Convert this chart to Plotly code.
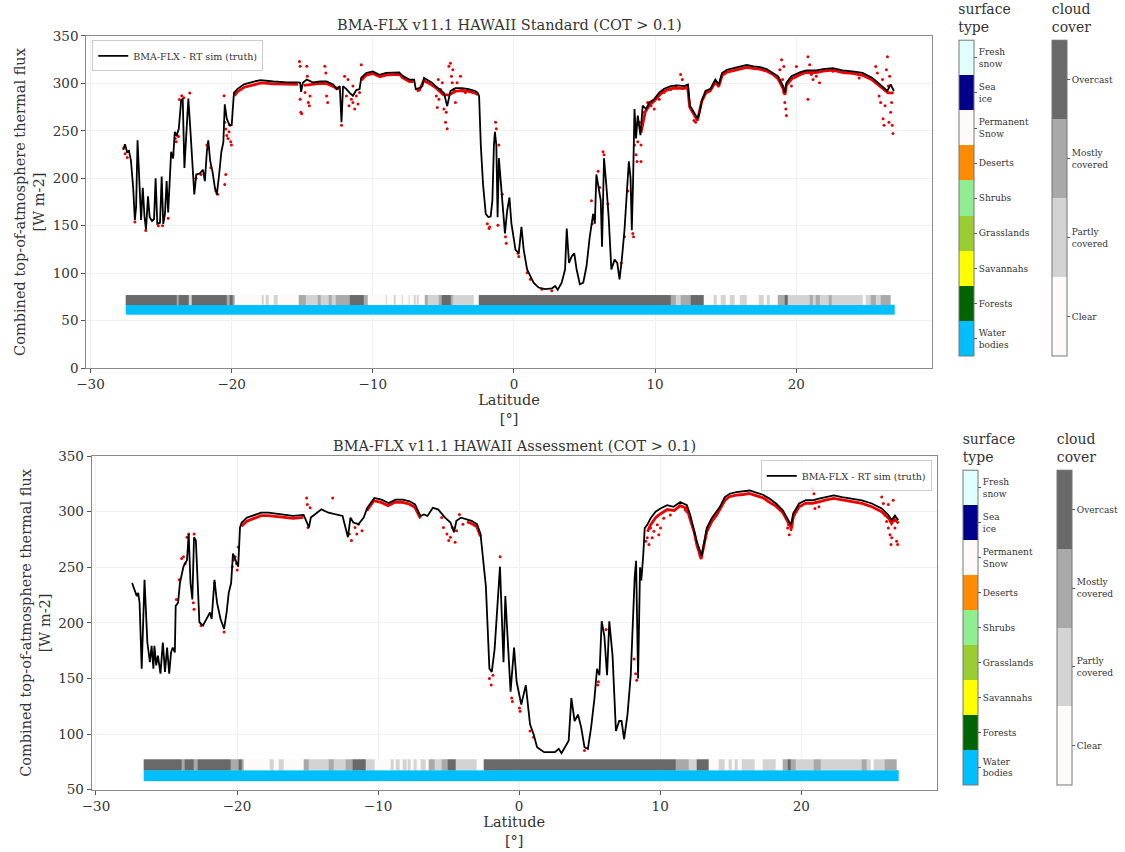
import plotly.graph_objects as go

FONT = "DejaVu Serif"

# ---------------- data: top panel (Standard) ----------------
top_truth = [(-27.68, 230), (-27.56, 236), (-27.42, 228), (-27.28, 229), (-27.14, 219), (-26.98, 190),
             (-26.86, 156), (-26.77, 170), (-26.67, 240), (-26.56, 193), (-26.42, 156), (-26.30, 190),
             (-26.18, 160), (-26.07, 146), (-25.93, 181), (-25.81, 159), (-25.64, 155), (-25.50, 157),
             (-25.39, 200), (-25.27, 152), (-25.08, 153), (-24.96, 202), (-24.85, 152), (-24.73, 162),
             (-24.61, 197), (-24.50, 164), (-24.38, 200), (-24.29, 228), (-24.15, 221), (-24.03, 249),
             (-23.91, 245), (-23.75, 252), (-23.58, 282), (-23.47, 284), (-23.35, 211), (-23.21, 252),
             (-23.07, 284), (-22.93, 252), (-22.76, 207), (-22.65, 183), (-22.51, 204), (-22.27, 205),
             (-22.04, 209), (-21.90, 197), (-21.76, 228), (-21.66, 240), (-21.52, 218), (-21.36, 207),
             (-21.19, 190), (-21.05, 183), (-20.89, 204), (-20.73, 228), (-20.59, 238), (-20.49, 278),
             (-20.35, 263), (-20.16, 256), (-20.00, 256), (-19.84, 290), (-19.60, 294), (-19.13, 299),
             (-18.43, 302), (-17.96, 303.4), (-17.03, 302), (-16.09, 301), (-15.27, 301), (-15.15, 300.6),
             (-15.08, 291), (-14.96, 300.6), (-14.68, 304), (-14.22, 301), (-13.75, 302), (-13.28, 302),
             (-12.81, 299), (-12.58, 294), (-12.34, 297), (-12.22, 259), (-12.11, 297), (-11.87, 294),
             (-11.64, 290), (-11.41, 287), (-11.17, 293), (-10.94, 294), (-10.82, 306), (-10.47, 311),
             (-10.00, 312.7), (-9.53, 309), (-9.06, 311), (-8.59, 311.7), (-8.13, 311.7), (-7.89, 308),
             (-7.42, 304), (-7.07, 304), (-6.96, 294), (-6.72, 295), (-6.49, 297), (-6.37, 305.8),
             (-6.02, 302.4), (-5.78, 300.6), (-5.55, 297), (-5.32, 294), (-4.96, 290), (-4.73, 276),
             (-4.50, 292), (-4.15, 295), (-3.68, 295), (-3.21, 294), (-2.74, 292), (-2.59, 290.3),
             (-2.47, 286.8), (-2.35, 235), (-2.19, 193.6), (-2.00, 162.6), (-1.81, 159), (-1.65, 160),
             (-1.53, 176.4), (-1.42, 235), (-1.35, 248.9), (-1.25, 235), (-1.16, 159), (-1.07, 221.2),
             (-0.95, 200.5), (-0.83, 176.4), (-0.64, 141.9), (-0.48, 166), (-0.32, 179.8), (-0.18, 152.2),
             (0.11, 124.6), (0.34, 121.1), (0.53, 148.8), (0.69, 124.6), (0.93, 103.9), (1.16, 97),
             (1.39, 90), (1.74, 84.9), (2.21, 83.2), (2.68, 83.9), (2.92, 86.6), (3.10, 82.5),
             (3.38, 90), (3.62, 103.9), (3.74, 147), (3.90, 110.8), (4.09, 117.7), (4.27, 121.1),
             (4.44, 103.9), (4.67, 88.3), (4.91, 90), (5.14, 107.3), (5.37, 138.4), (5.61, 162.6),
             (5.73, 152.2), (5.84, 204), (5.96, 193.6), (6.15, 176.4), (6.24, 128), (6.38, 221.2),
             (6.54, 193.6), (6.71, 159.1), (6.90, 103.9), (7.13, 114.3), (7.32, 110.8), (7.48, 93.5),
             (7.64, 114.3), (7.83, 145.3), (8.02, 190.2), (8.14, 217.8), (8.26, 200.5), (8.35, 145.3),
             (8.44, 197.1), (8.54, 273), (8.65, 242), (8.77, 266.1), (8.96, 245.4), (9.12, 276.5),
             (9.36, 273), (9.59, 279.9), (9.94, 283.4), (10.29, 290.3), (10.64, 294.4), (11.11, 297.2),
             (11.58, 297.9), (12.05, 297.2), (12.33, 298.9), (12.47, 276.5), (12.75, 269.6), (12.99, 263.4),
             (13.10, 266.1), (13.34, 283.4), (13.57, 292), (13.92, 294.4), (14.27, 304.1), (14.51, 298.9),
             (14.74, 311), (15.09, 314.4), (15.56, 316.2), (16.03, 317.9), (16.50, 319.6), (16.97, 317.9),
             (17.44, 317.2), (17.90, 315.1), (18.37, 311), (18.72, 307.5), (19.07, 297.2), (19.19, 290.3),
             (19.30, 300.6), (19.66, 307.5), (20.25, 311.7), (20.71, 313.8), (21.42, 313.8), (21.89, 315.1),
             (22.59, 316.2), (23.29, 313.8), (23.99, 312.7), (24.70, 311), (25.40, 305.8), (26.11, 297.2),
             (26.46, 292), (26.69, 298.9), (26.92, 292)]

top_red_band = [(-19.8, 287), (-19.6, 291), (-19.1, 296), (-18.4, 299), (-17.9, 300.5), (-17.0, 299.5),
                (-16.1, 299), (-15.3, 299), None,
                (-14.9, 298), (-14.2, 299), (-13.7, 300), (-13.2, 299.5), (-12.8, 297), (-12.4, 294), None,
                (-10.8, 303.5), (-10.5, 308.5), (-10.0, 310.5), (-9.5, 307), (-9.0, 309), (-8.6, 309.5),
                (-8.1, 309.5), (-7.9, 306), (-7.4, 302), (-7.1, 302), None,
                (-6.9, 292), (-6.7, 293), (-6.4, 303), (-6.0, 300), (-5.5, 295), (-5.0, 288), (-4.6, 288),
                (-4.1, 292), (-3.7, 292.5), (-3.2, 291.5), (-2.7, 289.5), (-2.55, 288), None,
                (9.0, 248), (9.3, 270), (9.6, 277), (9.9, 281), (10.3, 287.5), (10.6, 291.5), (11.1, 294.5),
                (11.6, 295), (12.0, 294.5), (12.3, 296), (12.45, 275), (12.75, 267), (13.0, 261), (13.3, 281),
                (13.6, 290), (13.9, 292), (14.3, 302), (14.5, 296.5), (14.75, 308.5), (15.1, 312), (15.6, 314),
                (16.0, 315.5), (16.5, 317), (17.0, 315.5), (17.4, 315), (17.9, 313), (18.4, 309), (18.7, 305),
                (19.05, 295), (19.2, 288), (19.3, 298), (19.7, 305), (20.3, 309.5), (20.7, 311.5), (21.4, 311.5),
                (21.9, 313), (22.6, 314), (23.3, 311.5), (24.0, 310.5), (24.7, 308.5), (25.4, 303.5),
                (26.1, 295), (26.5, 290), (26.9, 290)]

top_red_pts = [(-27.65, 232), (-27.55, 226), (-27.4, 222), (-26.86, 154), (-26.09, 145), (-25.2, 150),
               (-24.9, 150), (-24.5, 158), (-24.17, 225), (-24.0, 242), (-23.86, 245), (-23.7, 283),
               (-23.54, 287), (-23.4, 285), (-22.97, 290), (-23.07, 269.6), (-23.93, 238.5), (-23.77, 244),
               (-23.35, 228), (-22.53, 200), (-22.18, 204), (-21.48, 211), (-21.12, 187), (-21.0, 183.3),
               (-21.76, 235), (-20.54, 287), (-20.49, 259), (-20.42, 252), (-20.35, 245), (-20.26, 242),
               (-20.19, 249), (-20.12, 256), (-20.07, 238.5), (-20.42, 204), (-20.49, 193.6), (-20.02, 235),
               (-15.2, 323), (-15.15, 318), (-15.1, 269.6), (-15.04, 268), (-15.15, 283.4), (-14.8, 290.3),
               (-14.68, 318), (-14.64, 307.5), (-14.57, 280), (-14.5, 276.5), (-14.45, 286.8),
               (-13.4, 318), (-13.33, 311), (-13.28, 286.8), (-13.2, 280),
               (-12.0, 307.5), (-11.87, 286.8), (-11.69, 276.5), (-11.52, 283.4), (-11.41, 280),
               (-11.29, 273), (-11.17, 286.8), (-11.05, 278.2), (-10.94, 290.3), (-10.82, 319.6),
               (-12.22, 255.8), (-11.76, 304), (-11.41, 297.2),
               (-5.5, 286.8), (-5.43, 274.7), (-5.32, 283.4), (-5.2, 293.7), (-5.08, 300.6), (-4.96, 273),
               (-4.85, 259.2), (-4.73, 252.3), (-4.8, 269.6), (-4.61, 318), (-4.5, 321.3), (-4.43, 307.5),
               (-4.33, 314.4), (-4.26, 293.7), (-4.15, 280), (-4.03, 300.6), (-3.79, 307.5), (-3.68, 293.7),
               (-3.56, 292), (-3.44, 290.3), (-5.36, 304), (-4.38, 300.6),
               (-1.89, 152.2), (-1.77, 147), (-1.72, 148.8), (-1.3, 259.2), (-1.25, 252.3), (-1.14, 150.5),
               (-1.07, 235), (-0.83, 183.3), (-0.6, 138.4), (-0.55, 131.5), (0.29, 121), (0.34, 117.7),
               (0.93, 100.4), (1.16, 93.5), (1.98, 83.2), (2.68, 81.4), (5.49, 176.4), (5.54, 152.2),
               (5.96, 207.4), (6.07, 190.2), (6.31, 228.1), (6.38, 224.7), (6.66, 173), (7.6, 110.8),
               (7.83, 138.4), (8.07, 186.7), (8.42, 141.9), (8.47, 138.4), (8.54, 235), (8.65, 224.7),
               (8.72, 217.8), (8.77, 238.5), (8.89, 259.2), (9.0, 235), (9.0, 217.8), (9.24, 269.6),
               (9.47, 280), (9.71, 276.5), (9.94, 273), (10.29, 283.4), (10.64, 290.3), (11.11, 293.7),
               (11.46, 297.2), (11.81, 309.3), (11.93, 304), (12.75, 260.9), (12.87, 259.2),
               (18.84, 314.4), (18.96, 324.8), (19.03, 304), (19.12, 290.3), (19.19, 280), (19.26, 273),
               (19.3, 266.1), (19.12, 317.9), (19.43, 300.6), (19.66, 297.2), (20.01, 317.9), (20.83, 328.2),
               (20.95, 319.6), (20.83, 283.4), (21.07, 309.3), (21.19, 304), (21.42, 307.5), (21.65, 300.6),
               (22.59, 312.7), (24.46, 305.8), (25.63, 317.9), (25.75, 311), (25.87, 286.8), (25.98, 280),
               (26.11, 304), (26.15, 262.7), (26.22, 255.8), (26.29, 276.5), (26.39, 314.4), (26.46, 328.2),
               (26.53, 297.2), (26.57, 259.2), (26.69, 269.6), (26.76, 280), (26.8, 255.8), (26.85, 247.1),
               (26.62, 307.5)]

# cloud cover segments: (start latitude, class) ; classes 0 clear .. 3 overcast
top_cloud = [(-27.51, 3), (-23.92, 2), (-23.72, 3), (-23.05, 1), (-22.80, 3), (-20.36, 2), (-20.16, 3),
             (-19.96, 2), (-19.79, 0), (-17.90, 1), (-17.70, 0), (-17.60, 1), (-17.40, 0), (-17.02, 1),
             (-16.72, 0), (-15.26, 2), (-14.76, 1), (-13.90, 2), (-13.70, 1), (-13.13, 2), (-12.90, 1),
             (-12.60, 2), (-11.63, 3), (-10.63, 2), (-10.37, 0), (-9.12, 1), (-9.00, 0), (-8.50, 1),
             (-8.37, 0), (-7.99, 1), (-7.87, 0), (-7.49, 1), (-7.37, 0), (-7.12, 1), (-6.99, 0), (-6.87, 1),
             (-6.74, 0), (-6.36, 2), (-6.11, 1), (-5.36, 2), (-5.11, 3), (-4.48, 2), (-4.36, 1), (-2.85, 0),
             (-2.48, 3), (11.10, 2), (11.46, 1), (11.81, 2), (12.51, 3), (13.45, 0), (14.15, 1), (14.38, 0),
             (14.62, 1), (14.97, 0), (15.32, 1), (15.67, 0), (16.02, 1), (16.49, 0), (17.31, 1), (17.66, 0),
             (17.90, 1), (18.13, 0), (18.71, 2), (19.18, 3), (19.42, 1), (20.94, 2), (21.18, 1), (21.41, 2),
             (21.64, 1), (22.30, 2), (22.50, 1), (24.68, 0), (24.92, 1), (25.27, 2), (25.62, 1), (26.00, 2)]
top_cloud_end = 26.67
top_surface = [(-27.51, 0)]
top_surface_end = 26.95
top_strip_y = [56.5, 66.8, 77.0]

# ---------------- data: bottom panel (Assessment) ----------------
bot_truth = [(-27.44, 235.9), (-27.26, 230), (-27.11, 224.1), (-27.01, 227), (-26.91, 218), (-26.76, 158.8),
             (-26.56, 238.8), (-26.36, 182.4), (-26.18, 164.7), (-26.06, 179.4), (-25.93, 158.8), (-25.86, 179.4),
             (-25.73, 161.8), (-25.61, 170.6), (-25.43, 154.4), (-25.26, 182.4), (-25.11, 155.9), (-24.96, 177.9),
             (-24.81, 154.4), (-24.68, 173.5), (-24.56, 177.9), (-24.41, 173.5), (-24.35, 215.3), (-24.18, 218.2),
             (-24.05, 235.9), (-23.80, 250.6), (-23.55, 256.5), (-23.43, 280), (-23.30, 235.9), (-23.17, 221.2),
             (-23.05, 277.1), (-22.92, 274.1), (-22.80, 244.7), (-22.67, 200.6), (-22.42, 197.6), (-22.17, 203.5),
             (-21.92, 209.4), (-21.80, 203.5), (-21.60, 238.8), (-21.42, 218.2), (-21.17, 203.5), (-20.92, 194.7),
             (-20.74, 209.4), (-20.59, 227.1), (-20.42, 235.9), (-20.29, 262.4), (-20.09, 256.5), (-19.92, 250.6),
             (-19.79, 285.9), (-19.67, 290.3), (-19.29, 294.7), (-18.79, 297.1), (-18.29, 299.1), (-17.78, 299.1),
             (-17.03, 297.6), (-16.03, 296.2), (-15.28, 297.1), (-14.90, 285.9), (-14.77, 294.7), (-14.52, 297.1),
             (-14.02, 302.1), (-13.52, 299.1), (-13.02, 297.6), (-12.52, 296.2), (-12.14, 277.1), (-11.96, 294.7),
             (-11.76, 290.3), (-11.39, 288.8), (-11.02, 294.7), (-10.77, 303.5), (-10.27, 312.4), (-9.76, 310.9),
             (-9.26, 307.9), (-8.76, 310.9), (-8.26, 310.9), (-7.76, 309.4), (-7.38, 306.5), (-7.00, 296.2),
             (-6.75, 297.6), (-6.50, 296.2), (-6.12, 303.5), (-5.75, 302.1), (-5.25, 294.7), (-4.87, 290.3),
             (-4.62, 281.5), (-4.45, 291.8), (-4.12, 294.7), (-3.74, 293.2), (-3.37, 291.8), (-2.99, 288.8),
             (-2.74, 280), (-2.36, 232.9), (-2.11, 158.8), (-1.94, 155.9), (-1.74, 176.5), (-1.36, 250.6),
             (-1.11, 164.7), (-0.98, 224.1), (-0.61, 138.2), (-0.36, 177.9), (-0.18, 147.1), (0.15, 126.5),
             (0.47, 144.1), (0.77, 108.8), (1.02, 100), (1.27, 88.2), (1.77, 83.8), (2.53, 83.8), (2.81, 86.8),
             (3.00, 82.9), (3.35, 91.2), (3.51, 94.1), (3.70, 132.4), (3.93, 111.8), (4.17, 117.6), (4.40, 105.9),
             (4.63, 88.2), (4.87, 86.8), (5.10, 105.9), (5.34, 132.4), (5.52, 158.8), (5.69, 152.9), (5.85, 201.5),
             (6.04, 188.2), (6.23, 152.9), (6.39, 201.5), (6.62, 170.6), (6.86, 102.9), (7.09, 111.8), (7.26, 111.8),
             (7.44, 95.6), (7.68, 117.6), (7.91, 152.9), (8.03, 197), (8.19, 241.2), (8.29, 255.9), (8.43, 150),
             (8.57, 250), (8.66, 238.2), (8.80, 261.8), (8.90, 285.3), (9.08, 288.2), (9.32, 294.1), (9.67, 300),
             (10.02, 302.9), (10.49, 305.9), (10.95, 304.4), (11.42, 308.8), (11.89, 305.9), (12.13, 297.1),
             (12.36, 285.3), (12.59, 273.5), (12.94, 260.3), (13.30, 285.3), (13.65, 294.1), (14.00, 300),
             (14.23, 304.4), (14.58, 313.2), (14.93, 316.2), (15.40, 317.6), (15.87, 318.2), (16.34, 319.1),
             (16.81, 317.1), (17.28, 315.3), (17.74, 311.8), (18.21, 307.4), (18.68, 301.5), (19.15, 291.2),
             (19.27, 288.2), (19.43, 298.5), (19.85, 307.4), (20.32, 310.3), (20.79, 310.3), (21.25, 311.8),
             (21.72, 313.2), (22.31, 314.7), (22.89, 313.2), (23.60, 311.8), (24.30, 310.3), (25.00, 307.4),
             (25.70, 303), (26.17, 297.1), (26.41, 292.6), (26.64, 296.5), (26.87, 292.6)]

bot_red_band = [(-19.7, 287), (-19.3, 291.5), (-18.8, 294), (-18.3, 296.5), (-17.8, 296.5), (-17.0, 295.5),
                (-16.0, 294), (-15.3, 295), None,
                (-10.8, 301), (-10.3, 310), (-9.8, 308.5), (-9.3, 305.5), (-8.8, 308.5), (-8.3, 308.5),
                (-7.8, 307), (-7.4, 304), (-7.0, 294), None,
                (-3.7, 291), (-3.4, 289.5), (-3.0, 286.5), (-2.75, 278), None,
                (9.1, 282), (9.3, 288), (9.7, 295), (10.0, 298), (10.5, 302), (11.0, 301), (11.4, 305.5),
                (11.9, 303), (12.1, 294), (12.4, 282), (12.6, 270), (12.9, 257.5), (13.3, 282), (13.65, 291),
                (14.0, 297), (14.2, 301.5), (14.6, 310.5), (14.9, 313.5), (15.4, 315), (15.9, 315.5),
                (16.3, 316.5), (16.8, 314.5), (17.3, 312.5), (17.7, 309), (18.2, 305), (18.7, 299),
                (19.15, 288.5), (19.3, 285), (19.45, 296), (19.85, 304.5), (20.3, 307.5), (20.8, 307.5),
                (21.3, 309), (21.7, 310.5), (22.3, 312), (22.9, 310.5), (23.6, 309), (24.3, 307.5),
                (25.0, 304.5), (25.7, 300), (26.2, 294), (26.4, 289.5), (26.6, 293.5), (26.9, 289.5)]

bot_red_pts = [(-24.3, 221), (-24.1, 238.8), (-23.93, 257.9), (-23.8, 259.4), (-23.68, 253.5), (-23.55, 277),
               (-23.43, 280), (-23.1, 218.2), (-23.05, 212.4), (-23.05, 280), (-22.55, 197.6), (-21.6, 236),
               (-20.92, 191.8), (-20.34, 250.6), (-20.24, 256.5), (-20.14, 259.4), (-20.04, 253.5),
               (-19.99, 247.6), (-19.92, 268.2), (-15.07, 312.4), (-15.02, 306.5), (-14.97, 285.9),
               (-14.82, 303.5), (-13.22, 312.4), (-12.04, 280), (-11.89, 274.1), (-11.64, 285.9),
               (-11.51, 280), (-11.39, 288.8), (-11.14, 282.9), (-5.49, 294.7), (-5.37, 285.9), (-5.12, 280),
               (-4.99, 274.1), (-4.87, 277.1), (-4.74, 285.9), (-4.54, 272.6), (-4.44, 282.9), (-4.24, 297.6),
               (-3.99, 288.8), (-1.35, 259.4), (-2.11, 150), (-1.98, 144.1), (-1.86, 152.9), (-0.53, 132.4),
               (-0.48, 129.4), (0.02, 123.5), (0.07, 120.6), (0.77, 102.9), (1.02, 97.1), (5.57, 144.1),
               (5.62, 147.1), (6.16, 194), (8.26, 154.4), (8.33, 148.5), (8.15, 167.6), (4.63, 85.3),
               (8.97, 273.5), (9.08, 276.5), (9.2, 270.6), (9.32, 285.3), (9.43, 276.5), (9.55, 282.4),
               (9.79, 288.2), (9.9, 279.4), (10.02, 285.3), (10.25, 294.1), (10.72, 297.1), (11.77, 301.5),
               (11.89, 300), (12.83, 260.3), (19.03, 285.3), (19.15, 279.4), (19.27, 283.8), (19.1, 288.2),
               (20.79, 320.6), (20.9, 316.2), (20.97, 302.9), (21.02, 308.8), (21.25, 304.4), (25.7, 313.2),
               (25.82, 307.4), (25.94, 297.1), (26.05, 291.2), (26.17, 285.3), (26.29, 279.4), (26.36, 270.6),
               (26.41, 276.5), (26.52, 310.3), (26.64, 285.3), (26.76, 273.5), (26.83, 270.6), (26.17, 306.5)]

bot_cloud = [(-26.62, 3), (-23.93, 2), (-23.68, 3), (-23.06, 2), (-22.81, 3), (-20.42, 2), (-19.92, 3),
             (-19.67, 2), (-19.54, 0), (-17.66, 1), (-17.41, 0), (-17.04, 1), (-16.66, 0), (-15.28, 2),
             (-14.90, 1), (-13.52, 2), (-13.15, 1), (-12.30, 2), (-11.77, 3), (-10.89, 1), (-10.27, 0),
             (-9.14, 1), (-8.89, 0), (-8.76, 1), (-8.50, 0), (-8.26, 1), (-8.01, 0), (-7.88, 1), (-7.70, 0),
             (-7.50, 1), (-7.26, 0), (-7.01, 1), (-6.63, 0), (-6.38, 2), (-6.00, 1), (-5.50, 2), (-5.10, 3),
             (-4.50, 1), (-3.00, 0), (-2.49, 3), (11.07, 2), (12.01, 1), (12.59, 3), (13.46, 0), (14.12, 1),
             (14.58, 0), (14.82, 1), (15.05, 0), (15.28, 1), (15.52, 0), (15.75, 1), (16.70, 0), (17.28, 1),
             (18.21, 0), (18.68, 2), (19.03, 3), (19.27, 2), (19.62, 1), (20.90, 2), (21.37, 1), (24.30, 2),
             (24.65, 1), (24.89, 0), (25.12, 1), (25.94, 2)]
bot_cloud_end = 26.76
bot_surface = [(-26.62, 0)]
bot_surface_end = 26.88
bot_strip_y = [57.9, 67.6, 77.4]

# ---------------- categories / labels ----------------
surface_names = ["Water<br>bodies", "Forests", "Savannahs", "Grasslands", "Shrubs", "Deserts",
                 "Permanent<br>Snow", "Sea<br>ice", "Fresh<br>snow"]
surface_colors = ["#00BFFF", "#006400", "#FFFF00", "#9ACD32", "#90EE90", "#FF8C00",
                  "#FFFAFA", "#00008B", "#E0FFFF"]
cloud_names = ["Clear", "Partly<br>covered", "Mostly<br>covered", "Overcast"]
cloud_colors = ["#FFFAFA", "#D3D3D3", "#A9A9A9", "#696969"]

lat_ticks = [-30, -20, -10, 0, 10, 20]
lat_labels = ["\u221230", "\u221220", "\u221210", "0", "10", "20"]
titles = ["BMA-FLX v11.1 HAWAII Standard (COT > 0.1)", "BMA-FLX v11.1 HAWAII Assessment (COT > 0.1)"]
legend_label = "BMA-FLX - RT sim (truth)"


def discrete_scale(colors):
    n = len(colors)
    out = []
    for i, c in enumerate(colors):
        out.append([i / n, c])
        out.append([(i + 1) / n, c])
    return out


def unzip(pairs):
    xs, ys = [], []
    for p in pairs:
        if p is None:
            xs.append(None)
            ys.append(None)
        else:
            xs.append(p[0])
            ys.append(p[1])
    return xs, ys


def segs(pairs, end):
    edges = [p[0] for p in pairs] + [end]
    codes = [p[1] for p in pairs]
    return edges, codes


def cbar(names, x_px, top_px, bottom_px, title):
    n = len(names)
    return dict(
        title=dict(text=title, side="top", font=dict(family=FONT, size=14, color="#333")),
        x=x_px / 1125, xanchor="left", xpad=0,
        y=1 - top_px / 852, yanchor="top", ypad=0,
        len=(bottom_px - top_px) / 852, lenmode="fraction",
        thickness=15, outlinecolor="#777", outlinewidth=1,
        tickvals=list(range(n)), ticktext=names, ticks="outside", ticklen=3,
        tickcolor="#555", tickfont=dict(family=FONT, size=9, color="#333"),
    )


fig = go.Figure()

panels = [
    dict(truth=top_truth, band=top_red_band, pts=top_red_pts, cloud=top_cloud, cloud_end=top_cloud_end,
         surf=top_surface, surf_end=top_surface_end, sy=top_strip_y, xa="x", ya="y", leg="legend",
         cb_top=-7, cb_bot=355, sx=957.3, cx=1051.7),
    dict(truth=bot_truth, band=bot_red_band, pts=bot_red_pts, cloud=bot_cloud, cloud_end=bot_cloud_end,
         surf=bot_surface, surf_end=bot_surface_end, sy=bot_strip_y, xa="x2", ya="y2", leg="legend2",
         cb_top=431, cb_bot=792, sx=961.7, cx=1056.7),
]

for p in panels:
    se, sc = segs(p["surf"], p["surf_end"])
    fig.add_trace(go.Heatmap(x=se, y=[p["sy"][0], p["sy"][1]], z=[sc], xaxis=p["xa"], yaxis=p["ya"],
                             colorscale=discrete_scale(surface_colors), zmin=-0.5, zmax=8.5,
                             colorbar=cbar(surface_names, p["sx"], p["cb_top"], p["cb_bot"], "surface<br>type"),
                             hoverinfo="skip"))
    ce, cc = segs(p["cloud"], p["cloud_end"])
    fig.add_trace(go.Heatmap(x=ce, y=[p["sy"][1], p["sy"][2]], z=[cc], xaxis=p["xa"], yaxis=p["ya"],
                             colorscale=discrete_scale(cloud_colors), zmin=-0.5, zmax=3.5,
                             colorbar=cbar(cloud_names, p["cx"], p["cb_top"], p["cb_bot"], "cloud<br>cover"),
                             hoverinfo="skip"))
    bx, by = unzip(p["band"])
    fig.add_trace(go.Scatter(x=bx, y=by, mode="lines", line=dict(color="#ee0000", width=2.8),
                             xaxis=p["xa"], yaxis=p["ya"], showlegend=False, hoverinfo="skip"))
    rx, ry = unzip(p["pts"])
    fig.add_trace(go.Scatter(x=rx, y=ry, mode="markers", marker=dict(color="#ee0000", size=3),
                             xaxis=p["xa"], yaxis=p["ya"], showlegend=False, hoverinfo="skip"))
    tx, ty = unzip(p["truth"])
    fig.add_trace(go.Scatter(x=tx, y=ty, mode="lines", line=dict(color="black", width=1.8),
                             name=legend_label, xaxis=p["xa"], yaxis=p["ya"], legend=p["leg"],
                             showlegend=True))

axis_common = dict(showgrid=True, gridcolor="#f0f0f0", gridwidth=1, zeroline=False, showline=True,
                   mirror=True, linecolor="#8a8a8a", linewidth=1.2, ticks="outside", ticklen=4,
                   tickcolor="#555", tickfont=dict(family=FONT, size=13.5, color="#333"))

ytitle = "Combined top-of-atmosphere thermal flux<br>[W m-2]"
xtitle = "Latitude<br>[°]"

fig.update_layout(
    width=1125, height=852, margin=dict(l=0, r=0, t=0, b=0),
    paper_bgcolor="white", plot_bgcolor="white",
    font=dict(family=FONT, color="#333"),
    xaxis=dict(domain=[77 / 1125, 930 / 1125], range=[-30.3, 29.6], anchor="y",
               tickvals=lat_ticks, ticktext=lat_labels,
               title=dict(text=xtitle, standoff=2, font=dict(family=FONT, size=14.5, color="#333")),
               **axis_common),
    yaxis=dict(domain=[1 - 367 / 852, 1 - 28.5 / 852], range=[0, 350], anchor="x",
               tickvals=[0, 50, 100, 150, 200, 250, 300, 350],
               title=dict(text=ytitle, standoff=4, font=dict(family=FONT, size=14.5, color="#333")),
               **axis_common),
    xaxis2=dict(domain=[82.5 / 1125, 935 / 1125], range=[-30.3, 29.6], anchor="y2",
                tickvals=lat_ticks, ticktext=lat_labels,
                title=dict(text=xtitle, standoff=2, font=dict(family=FONT, size=14.5, color="#333")),
                **axis_common),
    yaxis2=dict(domain=[1 - 796.7 / 852, 1 - 456.7 / 852], range=[50, 350], anchor="x2",
                tickvals=[50, 100, 150, 200, 250, 300, 350],
                title=dict(text=ytitle, standoff=4, font=dict(family=FONT, size=14.5, color="#333")),
                **axis_common),
    legend=dict(x=83 / 1125, y=1 - 33 / 852, xanchor="left", yanchor="top", bgcolor="rgba(255,255,255,0.85)",
                bordercolor="#cccccc", borderwidth=1, font=dict(family=FONT, size=9.5, color="#333"),
                itemwidth=30),
    legend2=dict(x=930 / 1125, y=1 - 461 / 852, xanchor="right", yanchor="top", bgcolor="rgba(255,255,255,0.85)",
                 bordercolor="#cccccc", borderwidth=1, font=dict(family=FONT, size=9.5, color="#333"),
                 itemwidth=30),
    annotations=[
        dict(text=titles[0], x=503.5 / 1125, y=1 - 17 / 852, xref="paper", yref="paper", showarrow=False,
             xanchor="center", yanchor="middle", font=dict(family=FONT, size=14.5, color="#333")),
        dict(text=titles[1], x=508.7 / 1125, y=1 - 446 / 852, xref="paper", yref="paper", showarrow=False,
             xanchor="center", yanchor="middle", font=dict(family=FONT, size=14.5, color="#333")),
    ],
)

fig.write_html("out.html")
